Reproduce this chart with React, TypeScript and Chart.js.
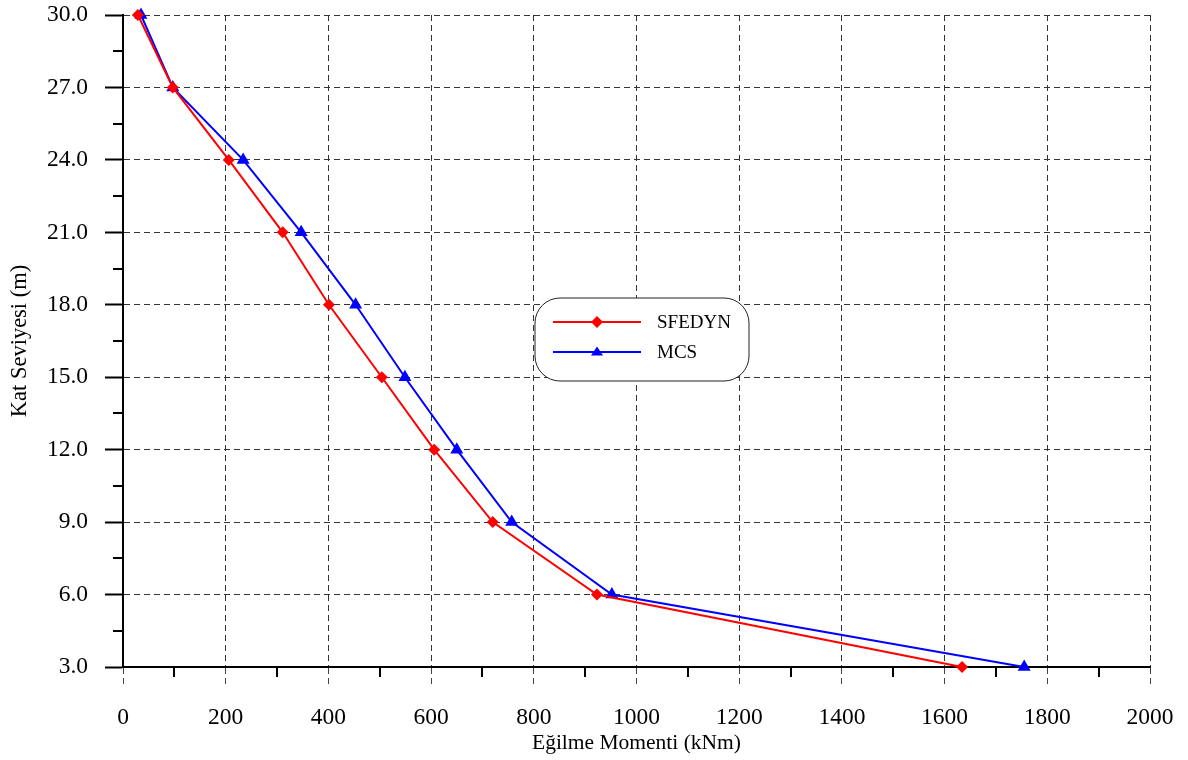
import React, { useEffect, useRef } from "react";
import { Chart, registerables } from "chart.js";

Chart.register(...registerables);

const levels = [30, 27, 24, 21, 18, 15, 12, 9, 6, 3];
const sfedyn = [29, 97, 206, 311, 401, 504, 606, 720, 923, 1634];
const mcs = [35, 97, 234, 347, 453, 549, 650, 757, 952, 1755];
const seriesNames = ["SFEDYN", "MCS"];
const xTitle = "Eğilme Momenti (kNm)";
const yTitle = "Kat Seviyesi (m)";

const FONT = "'Liberation Serif', 'Times New Roman', serif";

function drawMarker(ctx: CanvasRenderingContext2D, style: string, x: number, y: number, r: number, color: string) {
  ctx.save();
  ctx.fillStyle = color;
  ctx.beginPath();
  if (style === "rectRot") {
    ctx.moveTo(x, y - r);
    ctx.lineTo(x + r, y);
    ctx.lineTo(x, y + r);
    ctx.lineTo(x - r, y);
  } else {
    const h = r * 1.5;
    ctx.moveTo(x, y - h * 0.6);
    ctx.lineTo(x + r, y + h * 0.4);
    ctx.lineTo(x - r, y + h * 0.4);
  }
  ctx.closePath();
  ctx.fill();
  ctx.restore();
}

const extrasPlugin = {
  id: "extras",
  afterDraw(chart: any) {
    const ctx: CanvasRenderingContext2D = chart.ctx;
    const xs = chart.scales.x;
    const ys = chart.scales.y;
    const ca = chart.chartArea;
    ctx.save();
    ctx.strokeStyle = "#000";
    ctx.lineWidth = 2;
    for (let v = 100; v < 2000; v += 200) {
      const px = Math.round(xs.getPixelForValue(v));
      ctx.beginPath();
      ctx.moveTo(px, ca.bottom);
      ctx.lineTo(px, ca.bottom + 10);
      ctx.stroke();
    }
    for (let v = 4.5; v < 30; v += 3) {
      const py = Math.round(ys.getPixelForValue(v));
      ctx.beginPath();
      ctx.moveTo(ca.left, py);
      ctx.lineTo(ca.left - 10, py);
      ctx.stroke();
    }
    ctx.restore();

    const bx = ca.left + 412;
    const by = ca.top + 283;
    const bw = 214;
    const bh = 83;
    const r = 25;
    ctx.save();
    ctx.beginPath();
    ctx.moveTo(bx + r, by);
    ctx.lineTo(bx + bw - r, by);
    ctx.arcTo(bx + bw, by, bx + bw, by + r, r);
    ctx.lineTo(bx + bw, by + bh - r);
    ctx.arcTo(bx + bw, by + bh, bx + bw - r, by + bh, r);
    ctx.lineTo(bx + r, by + bh);
    ctx.arcTo(bx, by + bh, bx, by + bh - r, r);
    ctx.lineTo(bx, by + r);
    ctx.arcTo(bx, by, bx + r, by, r);
    ctx.closePath();
    ctx.fillStyle = "#fff";
    ctx.fill();
    ctx.strokeStyle = "#222";
    ctx.lineWidth = 1;
    ctx.stroke();

    const rows = chart.data.datasets.map((d: any, i: number) => ({
      label: d.label,
      color: d.borderColor,
      style: d.pointStyle,
      y: by + 24 + i * 30,
    }));
    rows.forEach((row: any) => {
      ctx.strokeStyle = row.color;
      ctx.lineWidth = 2;
      ctx.beginPath();
      ctx.moveTo(bx + 18, row.y);
      ctx.lineTo(bx + 106, row.y);
      ctx.stroke();
      drawMarker(ctx, row.style, bx + 62, row.y, 6, row.color);
      ctx.fillStyle = "#000";
      ctx.font = `19px ${FONT}`;
      ctx.textBaseline = "middle";
      ctx.textAlign = "left";
      ctx.fillText(row.label, bx + 122, row.y + 1);
    });
    ctx.restore();
  },
};

export default function App() {
  const ref = useRef<HTMLCanvasElement | null>(null);

  useEffect(() => {
    document.body.style.margin = "0";
    const canvas = ref.current;
    if (!canvas) return;
    const chart = new Chart(canvas, {
      type: "line",
      data: {
        datasets: [
          {
            label: seriesNames[0],
            data: levels.map((y, i) => ({ x: sfedyn[i], y })),
            borderColor: "#ff0000",
            backgroundColor: "#ff0000",
            borderWidth: 2,
            pointStyle: "rectRot",
            pointRadius: 6,
            pointBorderWidth: 0,
            tension: 0,
            clip: false,
          },
          {
            label: seriesNames[1],
            data: levels.map((y, i) => ({ x: mcs[i], y })),
            borderColor: "#0000ff",
            backgroundColor: "#0000ff",
            borderWidth: 2,
            pointStyle: "triangle",
            pointRadius: 7.5,
            pointBorderWidth: 0,
            tension: 0,
            clip: false,
          },
        ],
      },
      options: {
        responsive: false,
        animation: false,
        layout: { padding: { left: 0, top: 15, right: 38, bottom: 0 } },
        plugins: {
          legend: { display: false },
          tooltip: { enabled: false },
        },
        scales: {
          x: {
            type: "linear",
            min: 0,
            max: 2000,
            ticks: {
              stepSize: 200,
              color: "#000",
              font: { family: FONT, size: 23.5 },
              padding: 20,
              maxRotation: 0,
              callback: (v: any) => String(v),
            },
            grid: {
              color: "#333",
              lineWidth: 1,
              tickLength: 17,
              tickColor: "#444",
              tickWidth: 1,
              tickBorderDash: [6, 4],
            },
            border: { color: "#000", width: 2, dash: [6, 4] },
            title: {
              display: true,
              text: xTitle,
              color: "#000",
              font: { family: FONT, size: 21.5 },
              padding: { top: 0, bottom: 4 },
            },
            afterFit(scale: any) {
              scale.height = 93;
              scale.paddingLeft = 0;
              scale.paddingRight = 0;
            },
          },
          y: {
            type: "linear",
            min: 3,
            max: 30,
            ticks: {
              stepSize: 3,
              color: "#000",
              font: { family: FONT, size: 23.5 },
              padding: 17,
              callback: (v: any) => Number(v).toFixed(1),
            },
            grid: {
              color: "#333",
              lineWidth: 1,
              tickLength: 18,
              tickColor: "#000",
              tickWidth: 2,
            },
            border: { color: "#000", width: 2, dash: [6, 4] },
            title: {
              display: true,
              text: yTitle,
              color: "#000",
              font: { family: FONT, size: 22.5 },
              padding: { top: 7, bottom: 7 },
            },
            afterFit(scale: any) {
              scale.width = 123;
              scale.paddingTop = 0;
              scale.paddingBottom = 0;
            },
          },
        },
      } as any,
      plugins: [extrasPlugin],
    });
    return () => chart.destroy();
  }, []);

  return (
    <div style={{ width: 1188, height: 760, background: "#fff" }}>
      <canvas ref={ref} width={1188} height={760} style={{ display: "block" }} />
    </div>
  );
}
